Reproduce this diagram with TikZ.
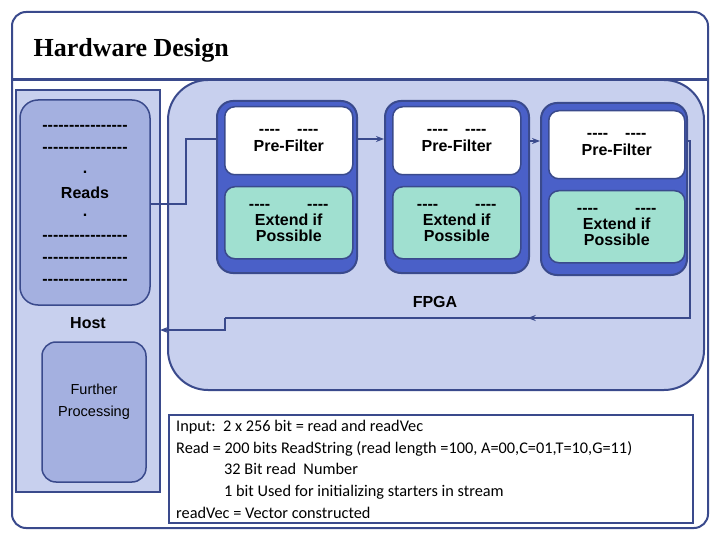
\documentclass[tikz,border=0pt]{standalone}
\usepackage{fontspec}
\setmainfont{Liberation Serif}
\newfontfamily\arialf{Liberation Sans}
\newfontfamily\calf{Carlito}
\usetikzlibrary{arrows.meta,decorations.markings}
\definecolor{frame}{HTML}{3A4A8C}
\definecolor{panel}{HTML}{C8D0EE}
\definecolor{boxb}{HTML}{A4B0E0}
\definecolor{blk}{HTML}{4A60C8}
\definecolor{teal}{HTML}{A0E0D0}
\begin{document}
\begin{tikzpicture}[x=1pt,y=-1pt,
  fr/.style={draw=frame,line width=2pt},
  bf/.style={font=\arialf\bfseries\fontsize{16}{19}\selectfont},
  inner/.style={draw=frame,line width=1.5pt,rounded corners=10pt,align=center,bf},
  con/.style={draw=frame,line width=1.6pt},
  arr/.style={con,-{Stealth[length=8pt,width=6pt]}}]
\useasboundingbox (0,0) rectangle (720,540);
\draw[fr,fill=white,rounded corners=14pt] (12,12) rectangle (708,528);
\draw[frame,line width=3pt] (12,80) -- (708,80);
\node[anchor=west,font=\bfseries\fontsize{26}{30}\selectfont] (title) at (30,50) {Hardware Design};
% host
\draw[fr,fill=panel] (16,90) rectangle (160,492);
\node[inner,fill=boxb,minimum width=130pt,minimum height=205pt,rounded corners=18pt] (reads) at (85,202.5) {};
\foreach \i/\y/\t in {1/128/{----------------},2/150/{----------------},3/172/{.},4/193/{Reads},5/215/{.},6/238/{----------------},7/260/{----------------},8/282/{----------------}}
  \node[bf,inner sep=0pt] (r\i) at (85,\y) {\t};
\node[bf] (host) at (88,323) {Host};
\node[inner,fill=boxb,minimum width=104pt,minimum height=140pt,rounded corners=14pt,font=\arialf\fontsize{14.5}{22}\selectfont] (fp) at (94,412) {};
\node[font=\arialf\fontsize{14.5}{22}\selectfont,align=center] (fpt) at (94,402) {Further\\Processing};
% FPGA
\draw[fr,fill=panel,rounded corners=40pt] (168,80) rectangle (704,390);
\foreach \n/\a/\b/\t in {1/216/356/100,2/384/528/100,3/540/686/102}{
  \node[draw=frame,line width=2pt,fill=blk,rounded corners=16pt,minimum width={\b-\a},minimum height=172pt,anchor=north west] (blk\n) at (\a,\t) {};
}
\foreach \n/\a/\b/\t in {1/224/352/106,2/392/520/106,3/548/684/110}{
  \node[inner,fill=white,minimum width={\b-\a},minimum height=68pt,anchor=north west] (pre\n) at (\a,\t) {---- \hspace{8pt} ----\\[-2pt]Pre-Filter};
  \node[inner,fill=teal,minimum width={\b-\a},minimum height=72pt,anchor=north west] (ext\n) at (\a,\t+80) {---- \hspace{28pt} ----\\[-3pt]Extend if\\[-3pt]Possible};
}
\node[bf] (fpga) at (435,302) {FPGA};
\coordinate (c1) at (186,204);
\coordinate (c2) at (186,139);
\coordinate (c3) at (690,141);
\coordinate (c4) at (690,318);
\coordinate (c5) at (225,318);
\coordinate (c6) at (225,330);
\draw[con] (reads.east |- c1) -- (c1) -- (c2) -- (blk1.west |- c2);
\draw[arr] (blk1.east |- 0,139) -- (blk2.west |- 0,139);
\draw[arr] (blk2.east |- 0,141) -- (blk3.west |- 0,141);
\draw[con,postaction={decorate},decoration={markings,mark=at position 0.53 with {\arrow{Stealth[length=8pt,width=6pt]}}}] (blk3.east |- c3) -- (c3) -- (c4) -- (c5);
\draw[arr] (c5) -- (c6) -- (160,330);
% info
\node[draw=frame,line width=2pt,fill=white,minimum width=524pt,minimum height=108pt,anchor=north west] (info) at (168,414) {};
\node[anchor=north west,align=left,inner sep=0pt,font=\calf\fontsize{16.3}{21.7}\selectfont] (itxt) at (176,420)
{Input:\ \ 2 x 256 bit = read and readVec\\
Read = 200 bits ReadString (read length =100, A=00,C=01,T=10,G=11)\\
\hspace{48pt}32 Bit read\ \ Number\\
\hspace{48pt}1 bit Used for initializing starters in stream\\
readVec = Vector constructed};
\end{tikzpicture}
\end{document}
